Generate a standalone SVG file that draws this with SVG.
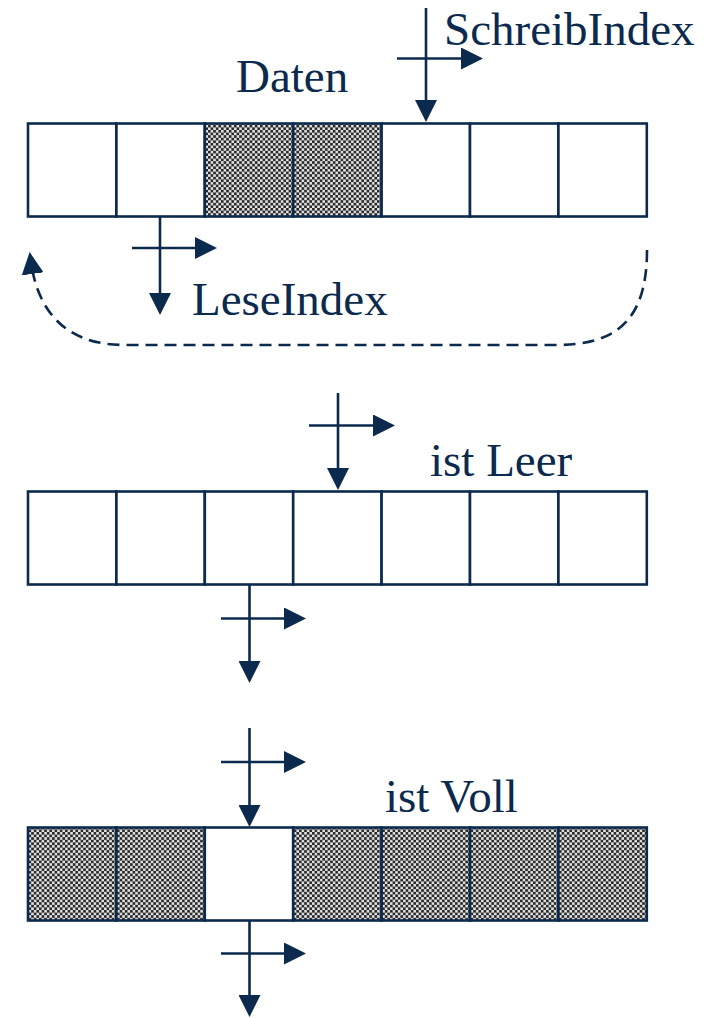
<svg xmlns="http://www.w3.org/2000/svg" width="706" height="1018" viewBox="0 0 706 1018">
  <style>
    .cell { stroke: #0b2a4d; stroke-width: 2.6; }
    .empty { fill: #ffffff; }
    .full { fill: url(#checker); }
    .arr { stroke: #0b2a4d; stroke-width: 2.6; fill: none; marker-end: url(#ah); }
    .dash { stroke: #0b2a4d; stroke-width: 2.6; fill: none; stroke-dasharray: 12 7; marker-end: url(#ah); }
    .lbl { font-family: "Liberation Serif", "Times New Roman", serif; font-size: 47px; fill: #0b2a4d; }
  </style>
  <defs>
    <pattern id="checker" patternUnits="userSpaceOnUse" width="5.2" height="5.2">
      <rect width="5.2" height="5.2" fill="#e4e4e4"/>
      <rect width="2.7" height="2.7" fill="#2a2a2a"/>
      <rect x="2.6" y="2.6" width="2.7" height="2.7" fill="#2a2a2a"/>
    </pattern>
    <marker id="ah" viewBox="0 0 22 22" refX="12" refY="11" markerWidth="22" markerHeight="22" markerUnits="userSpaceOnUse" orient="auto">
      <path d="M0,0 L22,11 L0,22 Z" fill="#0b2a4d"/>
    </marker>
  </defs>

  <rect width="706" height="1018" fill="#ffffff"/>

  <!-- Top buffer: Daten -->
  <g id="buffer-daten">
    <rect class="cell empty" x="28" y="123.5" width="88.4" height="93"/>
    <rect class="cell empty" x="116.4" y="123.5" width="88.4" height="93"/>
    <rect class="cell full" x="204.8" y="123.5" width="88.4" height="93"/>
    <rect class="cell full" x="293.2" y="123.5" width="88.4" height="93"/>
    <rect class="cell empty" x="381.6" y="123.5" width="88.4" height="93"/>
    <rect class="cell empty" x="470" y="123.5" width="88.4" height="93"/>
    <rect class="cell empty" x="558.4" y="123.5" width="88.4" height="93"/>
  </g>
  <g id="label-daten"><text class="lbl" x="236" y="92">Daten</text></g>
  <g id="label-schreib"><text class="lbl" x="444" y="45">SchreibIndex</text></g>
  <g id="label-lese"><text class="lbl" x="192" y="315">LeseIndex</text></g>

  <!-- Middle buffer: ist Leer -->
  <g id="buffer-leer">
    <rect class="cell empty" x="28" y="491.5" width="88.4" height="93"/>
    <rect class="cell empty" x="116.4" y="491.5" width="88.4" height="93"/>
    <rect class="cell empty" x="204.8" y="491.5" width="88.4" height="93"/>
    <rect class="cell empty" x="293.2" y="491.5" width="88.4" height="93"/>
    <rect class="cell empty" x="381.6" y="491.5" width="88.4" height="93"/>
    <rect class="cell empty" x="470" y="491.5" width="88.4" height="93"/>
    <rect class="cell empty" x="558.4" y="491.5" width="88.4" height="93"/>
  </g>
  <g id="label-leer"><text class="lbl" x="430" y="476">ist Leer</text></g>

  <!-- Bottom buffer: ist Voll -->
  <g id="buffer-voll">
    <rect class="cell full" x="28" y="827.5" width="88.4" height="93"/>
    <rect class="cell full" x="116.4" y="827.5" width="88.4" height="93"/>
    <rect class="cell empty" x="204.8" y="827.5" width="88.4" height="93"/>
    <rect class="cell full" x="293.2" y="827.5" width="88.4" height="93"/>
    <rect class="cell full" x="381.6" y="827.5" width="88.4" height="93"/>
    <rect class="cell full" x="470" y="827.5" width="88.4" height="93"/>
    <rect class="cell full" x="558.4" y="827.5" width="88.4" height="93"/>
  </g>
  <g id="label-voll"><text class="lbl" x="385" y="812">ist Voll</text></g>

  <g id="connectors">
    <!-- SchreibIndex (top) -->
    <line class="arr" x1="426" y1="8" x2="426" y2="112"/>
    <line class="arr" x1="397" y1="58.5" x2="473" y2="58.5"/>
    <!-- LeseIndex (top) -->
    <line class="arr" x1="160" y1="217" x2="160" y2="305"/>
    <line class="arr" x1="132" y1="248" x2="207" y2="248"/>
    <!-- wrap-around -->
    <path class="dash" d="M 647 250 C 647 325, 612 345, 555 345 L 125 345 C 66 345, 38 312, 31 262"/>
    <!-- ist Leer: write -->
    <line class="arr" x1="338" y1="393" x2="338" y2="480"/>
    <line class="arr" x1="309" y1="425.5" x2="385" y2="425.5"/>
    <!-- ist Leer: read -->
    <line class="arr" x1="249.5" y1="585" x2="249.5" y2="673"/>
    <line class="arr" x1="221" y1="618.5" x2="296" y2="618.5"/>
    <!-- ist Voll: write -->
    <line class="arr" x1="249.5" y1="728" x2="249.5" y2="817"/>
    <line class="arr" x1="221" y1="762" x2="296" y2="762"/>
    <!-- ist Voll: read -->
    <line class="arr" x1="249.5" y1="921" x2="249.5" y2="1007"/>
    <line class="arr" x1="221" y1="953.5" x2="296" y2="953.5"/>
  </g>
</svg>
